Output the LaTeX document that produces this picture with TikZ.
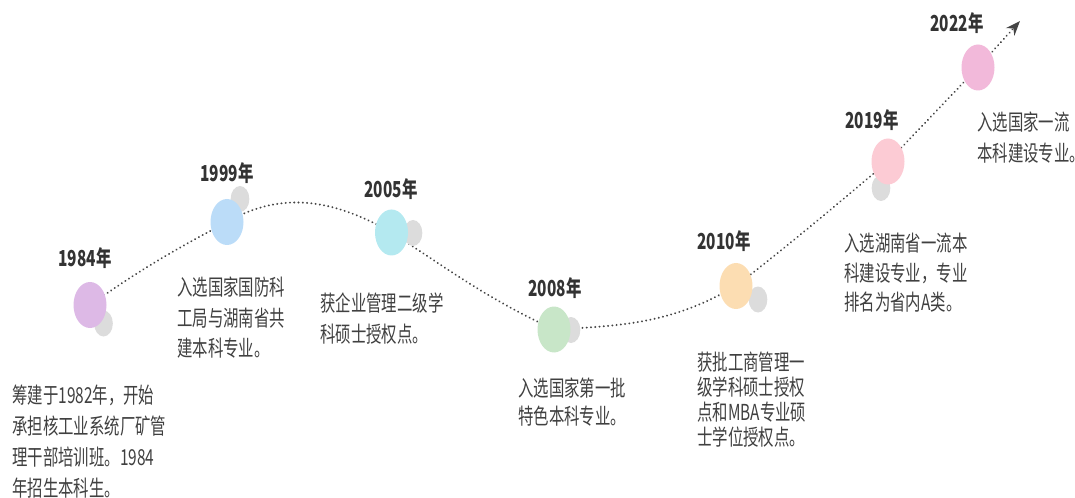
\documentclass[tikz,border=0pt]{standalone}
\usepackage{fontspec}
\usepackage{tikz}
\usetikzlibrary{arrows.meta,backgrounds,shapes.geometric}
\newfontfamily\cjk[FakeStretch=0.7]{Noto Sans CJK SC}
\definecolor{txtgray}{HTML}{404040}
\definecolor{yeargray}{HTML}{333333}
\definecolor{linegray}{HTML}{444444}
\definecolor{shadow}{HTML}{DCDCDC}
\definecolor{c1984}{HTML}{DDB9E6}
\definecolor{c1999}{HTML}{BBDCF8}
\definecolor{c2005}{HTML}{B4E9F0}
\definecolor{c2008}{HTML}{C8E6C8}
\definecolor{c2010}{HTML}{FCDDB2}
\definecolor{c2019}{HTML}{FCCBD4}
\definecolor{c2022}{HTML}{F2B9DA}

\begin{document}
\begin{tikzpicture}[x=0.75pt,y=0.75pt,
    year/.style={font=\cjk\bfseries\fontsize{16.5}{18}\selectfont, text=yeargray, inner sep=0pt},
    desc/.style={font=\cjk\fontsize{16.5}{#1}\selectfont, text=txtgray, align=left, anchor=north west, inner sep=0pt},
    bubble/.style={ellipse, fill=#1, minimum width=24.75pt, minimum height=34.5pt, inner sep=0pt},
    shade/.style={ellipse, fill=shadow, minimum width=14pt, minimum height=19.5pt, inner sep=0pt},
    track/.style={draw=linegray, line width=1.6pt, line cap=round, dash pattern=on 0.01pt off 3.2pt}]
    \useasboundingbox (0,0) rectangle (1075,497) ;

    \node[shade] (g1984) at (103.5,173.5) {} ;
    \node[shade] (g1999) at (240,298) {} ;
    \node[shade] (g2005) at (413,264) {} ;
    \node[shade] (g2008) at (571,167) {} ;
    \node[shade] (g2010) at (758,197.5) {} ;
    \node[shade] (g2019) at (881,309) {} ;

    \node[bubble=c1984] (e1984) at (90,192) {} ;
    \node[bubble=c1999] (e1999) at (227,275) {} ;
    \node[bubble=c2005] (e2005) at (391.5,264.5) {} ;
    \node[bubble=c2008] (e2008) at (554,167.5) {} ;
    \node[bubble=c2010] (e2010) at (736,211) {} ;
    \node[bubble=c2019] (e2019) at (888,335.5) {} ;
    \node[bubble=c2022] (e2022) at (978,429.5) {} ;
    \coordinate (tip) at (1020,476) ;

    \node[year] (y1984) at (85,239) {1984年} ;
    \node[year] (y1999) at (227,324) {1999年} ;
    \node[year] (y2005) at (391,308) {2005年} ;
    \node[year] (y2008) at (555,209) {2008年} ;
    \node[year] (y2010) at (724,256) {2010年} ;
    \node[year] (y2019) at (872,377) {2019年} ;
    \node[year] (y2022) at (957,474) {2022年} ;

    \node[desc=23.25pt] (d1984) at (12,112) {筹建于1982年，开始\\承担核工业系统厂矿管\\理干部培训班。1984\\年招生本科生。} ;
    \node[desc=22.9pt] (d1999) at (177,220) {入选国家国防科\\工局与湖南省共\\建本科专业。} ;
    \node[desc=23.25pt] (d2005) at (320,204) {获企业管理二级学\\科硕士授权点。} ;
    \node[desc=21pt] (d2008) at (518,119) {入选国家第一批\\特色本科专业。} ;
    \node[desc=18.75pt] (d2010) at (697,145) {获批工商管理一\\级学科硕士授权\\点和MBA专业硕\\士学位授权点。} ;
    \node[desc=22.1pt] (d2019) at (844,264) {入选湖南省一流本\\科建设专业，专业\\排名为省内A类。} ;
    \node[desc=23.25pt] (d2022) at (977,385) {入选国家一流\\本科建设专业。} ;

    \begin{scope}[on background layer]
    \path[track] (e1984.center) to[out=35,in=208] (e1999.center)
        to[out=30,in=150] (e2005.center)
        to[out=-33,in=155] (e2008.center)
        to[out=3,in=210] (e2010.center)
        to[out=38,in=220] (e2019.center)
        to[out=46,in=226] (e2022.center) ;
    \path[track,-{Stealth[length=11pt,width=8.5pt]}] (e2022.center) -- (tip) ;
    \end{scope}
\end{tikzpicture}
\end{document}
